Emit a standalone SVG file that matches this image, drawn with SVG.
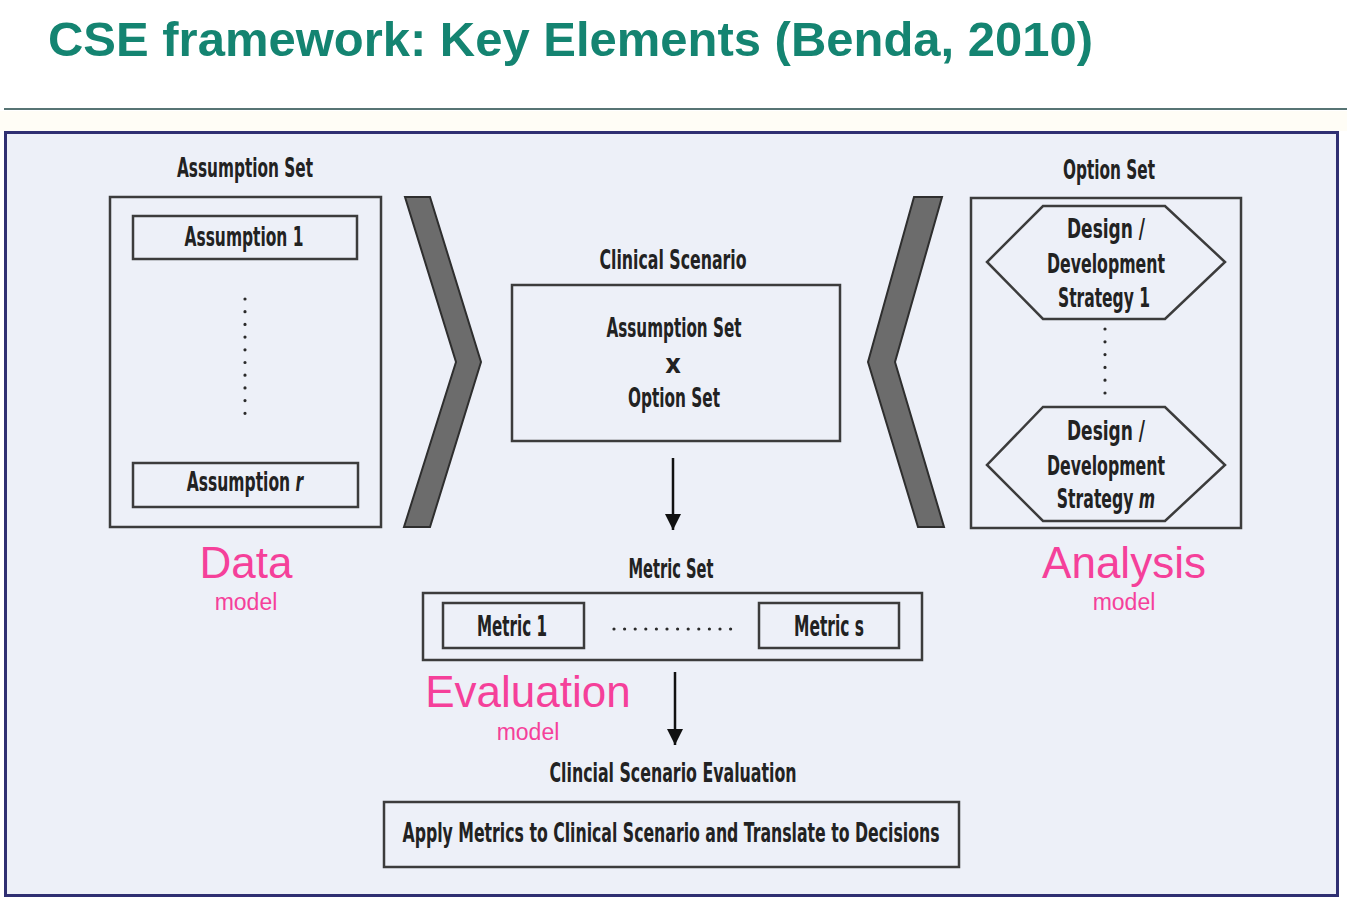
<svg xmlns="http://www.w3.org/2000/svg" width="1347" height="901" viewBox="0 0 1347 901">
  <defs>
    <style>
      .title { font-family: "Liberation Sans", Arial, sans-serif; font-weight: bold; font-size: 49px; fill: #148471; }
      .lbl { font-family: "Liberation Sans Narrow", "DejaVu Sans Condensed", "Liberation Sans", sans-serif; font-weight: bold; font-size: 27px; fill: #222222; }
      .big { font-size: 28px; }
      .pink { font-family: "Liberation Sans", Arial, sans-serif; fill: #f5409a; }
      .pinkBig { font-size: 44px; }
      .pinkSmall { font-size: 23px; }
      .box { fill: none; stroke: #3c3c3c; stroke-width: 2.5; }
      .chev { fill: #6c6c6c; stroke: #2e2e2e; stroke-width: 2; stroke-linejoin: miter; }
      .dots { stroke: #2a2a2a; stroke-width: 3.2; stroke-linecap: round; fill: none; }
      .flow { stroke: #111111; stroke-width: 2.5; fill: none; }
      .it { font-style: italic; }
    </style>
    <marker id="head" viewBox="0 0 16 26" refX="16" refY="13" markerWidth="16" markerHeight="26" markerUnits="userSpaceOnUse" orient="auto">
      <path d="M0,5 L16,13 L0,21 Z" fill="#111111"/>
    </marker>
  </defs>

  <!-- page background and heading -->
  <rect x="0" y="0" width="1347" height="901" fill="#ffffff"/>
  <text class="title" x="48" y="56" textLength="1045" lengthAdjust="spacingAndGlyphs">CSE framework: Key Elements (Benda, 2010)</text>
  <line x1="4" y1="109" x2="1347" y2="109" stroke="#1f4646" stroke-width="1.5"/>
  <rect x="0" y="111" width="1347" height="20" fill="#fffdf6"/>

  <!-- figure panel -->
  <rect x="5.5" y="132.5" width="1332" height="763" fill="#edf0f8" stroke="#2f2f72" stroke-width="3"/>

  <!-- left block: assumption set (data model) -->
  <g id="assumption-set">
    <text class="lbl" x="245" y="177" text-anchor="middle" textLength="136" lengthAdjust="spacingAndGlyphs">Assumption Set</text>
    <rect class="box" x="110" y="197" width="271" height="330"/>
  </g>
  <g id="assumption-1">
    <rect class="box" x="133" y="216" width="224" height="43"/>
    <text class="lbl" x="244" y="246" text-anchor="middle" textLength="119" lengthAdjust="spacingAndGlyphs">Assumption 1</text>
  </g>
  <g id="assumption-r">
    <rect class="box" x="133" y="463" width="225" height="44"/>
    <text class="lbl" transform="translate(245 491) scale(0.64 1)" x="0" y="0" text-anchor="middle">Assumption <tspan class="it">r</tspan></text>
  </g>
  <line class="dots" x1="245" y1="299" x2="245" y2="414" stroke-dasharray="0 12.7"/>
  <g id="data-model">
    <text class="pink pinkBig" x="246" y="578" text-anchor="middle">Data</text>
    <text class="pink pinkSmall" x="246" y="610" text-anchor="middle">model</text>
  </g>

  <!-- chevrons feeding the clinical scenario -->
  <g id="chevron-left">
    <polygon class="chev" points="405,197 430,197 481,362 430,527 404,527 456,362"/>
  </g>
  <g id="chevron-right">
    <polygon class="chev" points="914,197 942,197 895,362 944,527 918,527 868,362"/>
  </g>

  <!-- centre: clinical scenario -->
  <g id="clinical-scenario">
    <text class="lbl" x="673" y="269" text-anchor="middle" textLength="147" lengthAdjust="spacingAndGlyphs">Clinical Scenario</text>
    <rect class="box" x="512" y="285" width="328" height="156"/>
    <text class="lbl" x="674" y="337" text-anchor="middle" textLength="135" lengthAdjust="spacingAndGlyphs">Assumption Set</text>
    <text class="lbl" x="673" y="373" text-anchor="middle" font-weight="normal">x</text>
    <text class="lbl" x="674" y="407" text-anchor="middle" textLength="92" lengthAdjust="spacingAndGlyphs">Option Set</text>
  </g>

  <!-- right block: option set (analysis model) -->
  <g id="option-set">
    <text class="lbl" x="1109" y="179" text-anchor="middle" textLength="92" lengthAdjust="spacingAndGlyphs">Option Set</text>
    <rect class="box" x="971" y="198" width="270" height="330"/>
  </g>
  <g id="strategy-1">
    <polygon class="box" points="1043,206 1165,206 1225,262 1165,319 1043,319 987,262"/>
    <text class="lbl" x="1106" y="238" text-anchor="middle" textLength="78" lengthAdjust="spacingAndGlyphs">Design /</text>
    <text class="lbl" x="1106" y="273" text-anchor="middle" textLength="118" lengthAdjust="spacingAndGlyphs">Development</text>
    <text class="lbl" x="1104" y="307" text-anchor="middle" textLength="92" lengthAdjust="spacingAndGlyphs">Strategy 1</text>
  </g>
  <line class="dots" x1="1105" y1="329" x2="1105" y2="394" stroke-dasharray="0 12.8"/>
  <g id="strategy-m">
    <polygon class="box" points="1043,407 1165,407 1225,465 1165,521 1043,521 987,465"/>
    <text class="lbl" x="1106" y="440" text-anchor="middle" textLength="78" lengthAdjust="spacingAndGlyphs">Design /</text>
    <text class="lbl" x="1106" y="475" text-anchor="middle" textLength="118" lengthAdjust="spacingAndGlyphs">Development</text>
    <text class="lbl" transform="translate(1106 508) scale(0.645 1)" x="0" y="0" text-anchor="middle">Strategy <tspan class="it">m</tspan></text>
  </g>
  <g id="analysis-model">
    <text class="pink pinkBig" x="1124" y="578" text-anchor="middle">Analysis</text>
    <text class="pink pinkSmall" x="1124" y="610" text-anchor="middle">model</text>
  </g>

  <!-- metric set -->
  <g id="metric-set">
    <text class="lbl" x="671" y="578" text-anchor="middle" textLength="85" lengthAdjust="spacingAndGlyphs">Metric Set</text>
    <rect class="box" x="423" y="593" width="499" height="67"/>
  </g>
  <g id="metric-1">
    <rect class="box" x="443" y="603" width="141" height="45"/>
    <text class="lbl big" x="512" y="636" text-anchor="middle" textLength="70" lengthAdjust="spacingAndGlyphs">Metric 1</text>
  </g>
  <g id="metric-s">
    <rect class="box" x="759" y="603" width="140" height="45"/>
    <text class="lbl big" x="829" y="636" text-anchor="middle" textLength="70" lengthAdjust="spacingAndGlyphs">Metric s</text>
  </g>
  <line class="dots" x1="614" y1="629" x2="731" y2="629" stroke-dasharray="0 10.6"/>
  <g id="evaluation-model">
    <text class="pink pinkBig" x="528" y="707" text-anchor="middle">Evaluation</text>
    <text class="pink pinkSmall" x="528" y="740" text-anchor="middle">model</text>
  </g>

  <!-- clinical scenario evaluation -->
  <g id="scenario-evaluation">
    <text class="lbl" x="673" y="782" text-anchor="middle" textLength="247" lengthAdjust="spacingAndGlyphs">Clincial Scenario Evaluation</text>
    <rect class="box" x="384" y="802" width="575" height="65"/>
    <text class="lbl" x="671" y="842" text-anchor="middle" textLength="537" lengthAdjust="spacingAndGlyphs">Apply Metrics to Clinical Scenario and Translate to Decisions</text>
  </g>

  <!-- vertical flow arrows -->
  <g id="connectors">
    <line class="flow" x1="673" y1="458" x2="673" y2="530" marker-end="url(#head)"/>
    <line class="flow" x1="675" y1="672" x2="675" y2="745" marker-end="url(#head)"/>
  </g>
</svg>
